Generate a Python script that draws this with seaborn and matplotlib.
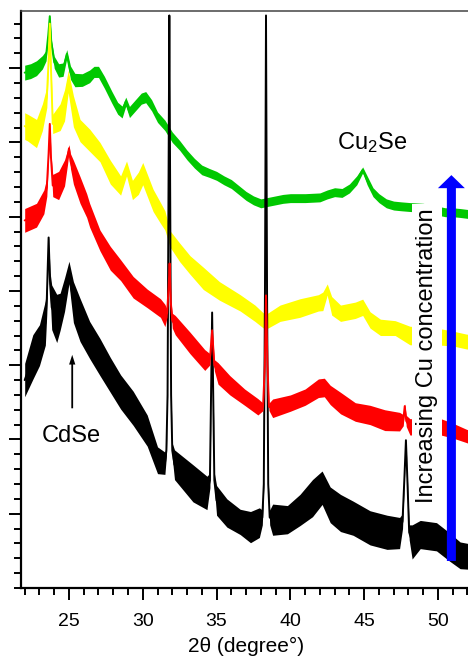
import numpy as np
import pandas as pd
import matplotlib
matplotlib.use("Agg")
import matplotlib.pyplot as plt
from matplotlib.patches import FancyArrowPatch, ArrowStyle
from matplotlib.ticker import MultipleLocator, FixedLocator, NullFormatter
import seaborn as sns

# ---- XRD patterns (stacked, arbitrary units) ----
# each pattern: 2-theta positions, trace centre, and vertical noise-band thickness

green_2theta = [22.0, 22.4, 22.8, 23.2, 23.45, 23.6, 23.7, 23.8, 24.0, 24.3,
                24.6, 24.85, 25.1, 25.4, 25.9, 26.4, 26.7, 27.0, 27.4, 27.9,
                28.3, 28.6, 28.85, 29.1, 29.5, 29.9, 30.2, 30.6, 31.0, 31.5,
                32.0, 32.5, 33.0, 33.5, 34.0, 34.5, 35.0, 35.5, 36.0, 36.5,
                37.0, 37.5, 38.0, 38.5, 39.0, 39.5, 40.0, 41.0, 42.0, 42.5,
                43.0, 43.5, 44.0, 44.5, 44.9, 45.2, 45.6, 46.0, 46.5, 47.0,
                47.5, 48.1, 49.0, 50.0, 50.5, 51.0, 51.5, 52.3]
green_int = [6.94, 6.96, 7.00, 7.08, 7.17, 7.45, 7.70, 7.35, 7.08, 6.97,
             6.98, 7.19, 6.94, 6.84, 6.84, 6.89, 6.95, 6.95, 6.81, 6.61,
             6.46, 6.41, 6.55, 6.41, 6.50, 6.59, 6.61, 6.50, 6.34, 6.23,
             6.07, 5.96, 5.83, 5.72, 5.63, 5.59, 5.55, 5.49, 5.44, 5.36,
             5.28, 5.22, 5.18, 5.20, 5.22, 5.24, 5.25, 5.25, 5.26, 5.30,
             5.33, 5.32, 5.38, 5.49, 5.63, 5.49, 5.33, 5.25, 5.18, 5.15,
             5.14, 5.13, 5.12, 5.08, 5.06, 5.06, 5.05, 5.03]
green_band = [0.20, 0.20, 0.20, 0.18, 0.14, 0.08, 0.04, 0.10, 0.16, 0.18,
              0.18, 0.12, 0.18, 0.18, 0.17, 0.17, 0.15, 0.15, 0.16, 0.16,
              0.16, 0.16, 0.12, 0.15, 0.15, 0.15, 0.15, 0.15, 0.14, 0.14,
              0.14, 0.13, 0.13, 0.13, 0.13, 0.12, 0.12, 0.12, 0.12, 0.12,
              0.12, 0.12, 0.12, 0.12, 0.12, 0.12, 0.12, 0.12, 0.12, 0.12,
              0.12, 0.12, 0.12, 0.12, 0.08, 0.12, 0.12, 0.12, 0.12, 0.12,
              0.12, 0.12, 0.12, 0.12, 0.12, 0.12, 0.12, 0.12]

yellow_2theta = [22.0, 22.2, 22.8, 23.2, 23.5, 23.62, 23.7, 23.78, 23.9, 24.4,
                 24.7, 24.95, 25.3, 25.75, 26.4, 27.1, 27.8, 28.5, 28.9, 29.3,
                 29.7, 30.0, 30.7, 31.2, 31.5, 31.85, 32.5, 33.2, 34.1, 35.2,
                 36.6, 37.6, 38.3, 39.3, 40.65, 41.9, 42.2, 42.5, 42.8, 43.4,
                 44.4, 44.9, 45.4, 46.1, 47.1, 48.1, 50.2, 51.0, 51.9, 52.3]
yellow_int = [6.22, 6.20, 6.12, 6.34, 6.61, 7.10, 7.60, 7.00, 6.25, 6.34,
              6.50, 6.82, 6.42, 6.16, 6.03, 5.87, 5.60, 5.42, 5.65, 5.36,
              5.45, 5.58, 5.22, 5.05, 4.95, 4.70, 4.52, 4.35, 4.17, 4.00,
              3.84, 3.70, 3.58, 3.70, 3.77, 3.84, 3.86, 4.02, 3.80, 3.70,
              3.74, 3.78, 3.61, 3.51, 3.50, 3.40, 3.38, 3.36, 3.32, 3.31]
yellow_band = [0.36, 0.36, 0.38, 0.36, 0.28, 0.10, 0.04, 0.10, 0.26, 0.36,
               0.42, 0.30, 0.42, 0.30, 0.30, 0.26, 0.32, 0.26, 0.20, 0.26,
               0.30, 0.30, 0.30, 0.28, 0.26, 0.22, 0.25, 0.25, 0.30, 0.25,
               0.22, 0.22, 0.20, 0.22, 0.25, 0.22, 0.25, 0.15, 0.25, 0.22,
               0.22, 0.22, 0.22, 0.22, 0.20, 0.25, 0.22, 0.20, 0.20, 0.20]

red_2theta = [22.0, 22.8, 23.3, 23.5, 23.62, 23.7, 23.78, 23.9, 24.3, 24.7,
              24.9, 25.0, 25.1, 25.3, 25.75, 26.2, 26.4, 27.1, 27.8, 28.5,
              29.35, 30.3, 31.2, 31.5, 31.65, 31.75, 31.82, 31.9, 32.0, 32.2,
              33.2, 34.2, 34.55, 34.7, 34.85, 35.1, 35.9, 36.9, 37.8, 38.15,
              38.27, 38.35, 38.45, 38.55, 38.8, 40.0, 41.0, 41.9, 42.3, 42.7,
              43.4, 44.4, 45.4, 46.4, 47.4, 47.65, 47.75, 47.85, 48.1, 50.2,
              51.0, 51.9, 52.3]
red_int = [4.95, 5.02, 5.20, 5.40, 5.85, 6.25, 5.80, 5.42, 5.42, 5.59,
           5.80, 5.92, 5.75, 5.60, 5.36, 5.15, 5.02, 4.68, 4.44, 4.28,
           4.05, 3.90, 3.77, 3.67, 3.70, 4.05, 4.37, 3.85, 3.60, 3.54,
           3.30, 3.07, 3.08, 3.47, 3.00, 2.89, 2.73, 2.57, 2.44, 2.44,
           3.00, 3.94, 3.00, 2.44, 2.42, 2.49, 2.57, 2.69, 2.70, 2.60,
           2.49, 2.37, 2.33, 2.26, 2.24, 2.26, 2.45, 2.25, 2.17, 2.17,
           2.12, 2.05, 2.02]
red_band = [0.32, 0.32, 0.32, 0.25, 0.10, 0.04, 0.10, 0.30, 0.38, 0.35,
            0.20, 0.10, 0.20, 0.32, 0.36, 0.32, 0.32, 0.28, 0.32, 0.28,
            0.29, 0.25, 0.25, 0.30, 0.10, 0.05, 0.04, 0.05, 0.20, 0.26,
            0.29, 0.28, 0.15, 0.04, 0.15, 0.29, 0.26, 0.22, 0.22, 0.10,
            0.05, 0.04, 0.05, 0.10, 0.25, 0.22, 0.22, 0.25, 0.25, 0.26,
            0.29, 0.25, 0.26, 0.28, 0.25, 0.15, 0.06, 0.15, 0.22, 0.22,
            0.20, 0.18, 0.18]

black_2theta = [22.0, 22.55, 23.0, 23.4, 23.5, 23.62, 23.72, 23.83, 24.17, 24.4,
                24.7, 25.0, 25.3, 25.75, 26.4, 27.1, 27.8, 28.5, 29.35, 30.3,
                31.0, 31.5, 31.6, 31.68, 31.74, 31.8, 31.86, 31.92, 32.0, 32.15,
                33.4, 34.35, 34.55, 34.7, 34.85, 35.0, 35.7, 36.6, 37.3, 37.9,
                38.1, 38.2, 38.28, 38.35, 38.42, 38.5, 38.6, 38.8, 39.8, 40.65,
                41.5, 42.15, 42.7, 43.4, 44.25, 45.4, 46.55, 47.4, 47.6, 47.72,
                47.83, 47.93, 48.05, 48.25, 48.8, 49.9, 50.8, 51.5, 52.3]
black_int = [2.80, 3.11, 3.27, 3.57, 3.90, 4.72, 4.10, 3.78, 3.63, 3.72,
             3.95, 4.25, 3.85, 3.61, 3.34, 3.11, 2.87, 2.64, 2.42, 2.12,
             1.72, 1.68, 1.85, 2.60, 5.20, 7.71, 5.20, 2.60, 1.85, 1.66,
             1.41, 1.28, 1.45, 3.71, 1.45, 1.18, 1.01, 0.89, 0.82, 0.88,
             0.95, 1.40, 4.00, 7.71, 4.00, 1.40, 0.95, 0.92, 0.92, 1.05,
             1.21, 1.35, 1.12, 1.01, 0.94, 0.81, 0.75, 0.74, 0.90, 1.45,
             1.99, 1.45, 0.75, 0.62, 0.72, 0.69, 0.55, 0.44, 0.42]
black_band = [0.45, 0.60, 0.55, 0.60, 0.40, 0.05, 0.30, 0.60, 0.65, 0.50,
              0.45, 0.30, 0.55, 0.58, 0.50, 0.50, 0.47, 0.46, 0.46, 0.42,
              0.36, 0.30, 0.15, 0.05, 0.03, 0.00, 0.03, 0.05, 0.20, 0.40,
              0.50, 0.45, 0.20, 0.03, 0.20, 0.40, 0.38, 0.34, 0.42, 0.40,
              0.20, 0.08, 0.03, 0.00, 0.03, 0.08, 0.20, 0.42, 0.38, 0.42,
              0.50, 0.45, 0.48, 0.50, 0.46, 0.46, 0.46, 0.42, 0.20, 0.06,
              0.03, 0.06, 0.20, 0.46, 0.38, 0.38, 0.38, 0.36, 0.34]

x_ticks = [25, 30, 35, 40, 45, 50]

# ---- style ----
sns.set_theme(style="ticks")
plt.rcParams["font.family"] = ["Liberation Sans", "DejaVu Sans"]
plt.rcParams["mathtext.fontset"] = "custom"
plt.rcParams["mathtext.rm"] = "Liberation Sans"
plt.rcParams["mathtext.it"] = "Liberation Sans:italic"
plt.rcParams["mathtext.default"] = "regular"

fig = plt.figure(figsize=(4.68, 6.59), dpi=100, facecolor="white")
ax = fig.add_axes([21 / 468, 71 / 659, 450.9 / 468, 577 / 659])
ax.set_facecolor("white")

patterns = [
    (green_2theta, green_int, green_band, "#00c800", 2.0),
    (yellow_2theta, yellow_int, yellow_band, "#ffff00", 2.1),
    (black_2theta, black_int, black_band, "#000000", 2.2),
    (red_2theta, red_int, red_band, "#ff0000", 2.3),
]
for tt, inten, band, color, z in patterns:
    df = pd.DataFrame({"two_theta": tt, "intensity": inten, "band": band})
    ax.fill_between(df["two_theta"], df["intensity"] - df["band"] / 2,
                    df["intensity"] + df["band"] / 2,
                    color=color, lw=0, zorder=z)
    sns.lineplot(data=df, x="two_theta", y="intensity", ax=ax, color=color,
                 lw=1.4, estimator=None, sort=False, zorder=z)

ax.set_xlim(21.75, 52.3)
ax.set_ylim(0, 7.77)

ax.xaxis.set_major_locator(FixedLocator(x_ticks))
ax.xaxis.set_minor_locator(MultipleLocator(1))
ax.yaxis.set_major_locator(FixedLocator([1, 2, 3, 4, 5, 6, 7]))
ax.yaxis.set_minor_locator(MultipleLocator(0.2))
ax.yaxis.set_major_formatter(NullFormatter())
ax.tick_params(which="major", direction="out", length=8.5, width=1.4,
               color="black", labelsize=14, labelcolor="black", pad=9.2)
ax.tick_params(which="minor", direction="out", length=5, width=1.4, color="black")
ax.tick_params(top=False, right=False, which="both")

for side in ["left", "bottom"]:
    ax.spines[side].set_linewidth(1.6)
    ax.spines[side].set_color("black")
ax.spines["top"].set_linewidth(1.1)
ax.spines["top"].set_color("#444444")
ax.spines["right"].set_linewidth(1.1)
ax.spines["right"].set_color("#444444")

ax.set_xlabel("2θ (degree°)", fontsize=15, labelpad=5, color="black")
ax.set_ylabel("")

# ---- annotations ----
ax.text(25.14, 1.966, "CdSe", fontsize=17, ha="center", va="baseline",
        color="black", zorder=6)
ax.add_patch(FancyArrowPatch((25.22, 2.42), (25.22, 3.14),
                             arrowstyle=ArrowStyle.Simple(head_length=7, head_width=4.5,
                                                          tail_width=1.3),
                             mutation_scale=1, color="black", lw=0,
                             shrinkA=0, shrinkB=0, zorder=6))

ax.text(45.56, 5.91, "Cu$_2$Se", fontsize=17, ha="center", va="baseline",
        color="black", zorder=6)

ax.text(49.25, 3.124, "Increasing Cu concentration", rotation=90, fontsize=17,
        ha="center", va="center", color="black", zorder=5,
        bbox=dict(facecolor="white", edgecolor="none", pad=3))
ax.add_patch(FancyArrowPatch((50.91, 0.364), (50.91, 5.56),
                             arrowstyle=ArrowStyle.Simple(head_length=9.4, head_width=19.4,
                                                          tail_width=6.5),
                             mutation_scale=1, color="#0000ff", lw=0,
                             shrinkA=0, shrinkB=0, zorder=6))

fig.savefig("out.png", dpi=100, facecolor="white")
